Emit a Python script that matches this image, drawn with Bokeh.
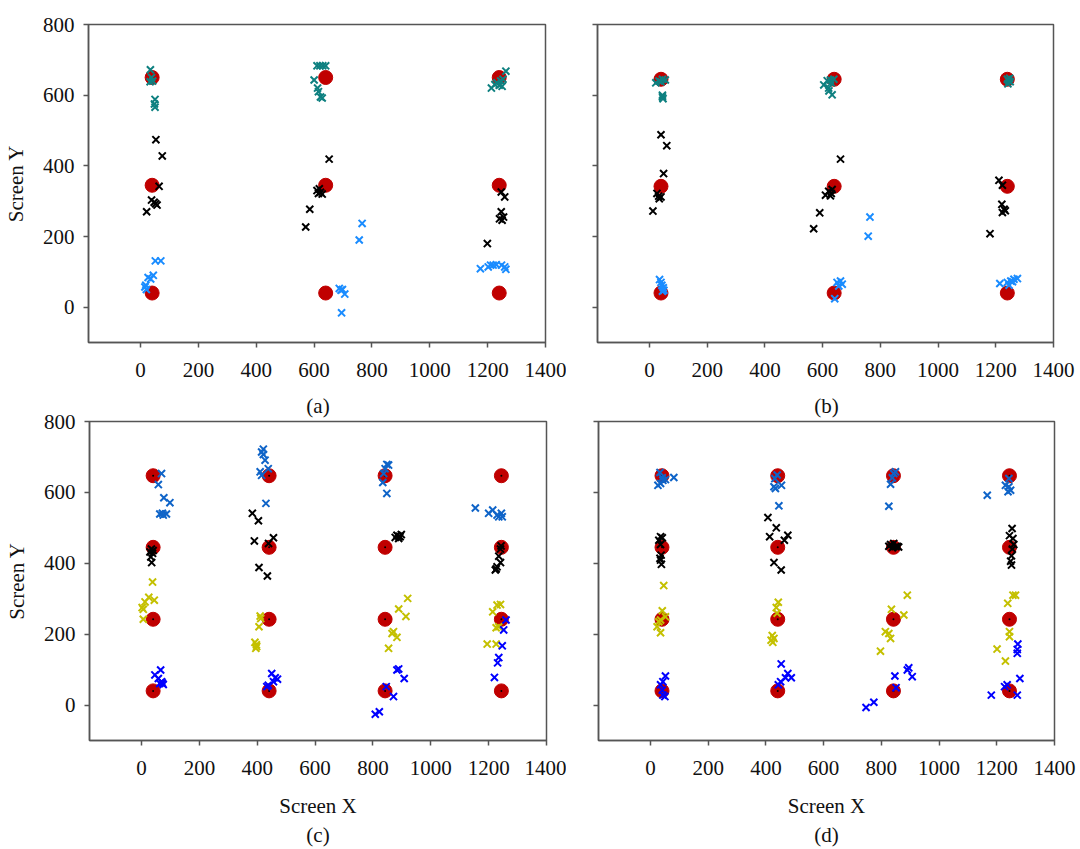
from bokeh.plotting import figure
from bokeh.layouts import column, row
from bokeh.models import FixedTicker, Range1d, Title, CustomJSTickFormatter
from bokeh.embed import file_html
from bokeh.resources import INLINE

# Target grid (red circles) for the two layouts
TARGET_X_AB = [40, 640, 1240]
TARGET_Y_A = [40, 345, 650]
TARGET_Y_B = [40, 342, 645]
TARGET_X_CD = [40, 441, 842, 1244]
TARGET_Y_CD = [40, 242, 445, 647]

X_TICKS = [0, 200, 400, 600, 800, 1000, 1200, 1400]
Y_TICKS = [0, 200, 400, 600, 800]

# Panel (a) gaze samples
A_TEAL = [(34, 672), (38, 650), (42, 640), (33, 638), (50, 588), (48, 575), (50, 566),
          (610, 683), (620, 683), (630, 683), (640, 683), (600, 643), (612, 620), (615, 610),
          (622, 595), (628, 592),
          (1263, 668), (1213, 620), (1225, 630), (1232, 635), (1240, 628), (1250, 625),
          (1253, 645), (1245, 640)]
A_BLACK = [(53, 474), (75, 428), (64, 342), (38, 303), (52, 293), (47, 297), (57, 289), (21, 270),
           (652, 419), (610, 330), (618, 335), (622, 325), (628, 320), (615, 322), (585, 277),
           (571, 227),
           (1247, 326), (1259, 312), (1247, 270), (1241, 250), (1250, 246), (1255, 255),
           (1199, 180)]
A_BLUE = [(51, 131), (70, 131), (26, 84), (44, 90), (35, 80), (15, 57), (20, 50), (18, 62),
          (766, 237), (756, 190), (687, 53), (693, 48), (698, 50), (706, 37), (695, -16),
          (1175, 109), (1202, 114), (1210, 119), (1219, 119), (1230, 120), (1248, 119),
          (1259, 114), (1263, 107)]

# Panel (b) gaze samples
B_TEAL = [(22, 635), (33, 640), (45, 645), (55, 643), (40, 638), (45, 600), (45, 595), (47, 590),
          (604, 629), (616, 641), (622, 612), (627, 643), (639, 645), (621, 620), (633, 601),
          (630, 635),
          (1240, 645), (1245, 640), (1250, 638), (1242, 632), (1248, 648)]
B_BLACK = [(40, 488), (60, 457), (49, 378), (26, 322), (34, 307), (40, 312), (32, 314), (12, 272),
           (662, 419), (610, 317), (621, 328), (630, 322), (627, 315), (633, 333), (590, 267),
           (569, 222),
           (1211, 359), (1223, 345), (1221, 291), (1229, 277), (1223, 268), (1233, 273),
           (1180, 208)]
B_BLUE = [(35, 78), (40, 70), (43, 62), (48, 55), (50, 48), (45, 45),
          (764, 255), (758, 201), (650, 70), (662, 74), (668, 65), (656, 60), (642, 24),
          (1214, 67), (1240, 70), (1252, 74), (1263, 79), (1275, 81), (1246, 62), (1258, 72)]

# Panel (c) gaze samples
C_MIDBLUE = [(69, 653), (58, 622), (77, 585), (98, 571), (63, 539), (75, 536), (86, 539), (72, 541),
             (421, 722), (415, 714), (421, 707), (427, 691), (410, 658), (438, 667), (415, 648),
             (430, 569),
             (848, 679), (854, 677), (842, 667), (837, 653), (834, 628), (848, 597),
             (1154, 556), (1200, 541), (1214, 550), (1229, 536), (1244, 541), (1235, 531),
             (1247, 531)]
C_BLACK = [(34, 440), (29, 432), (38, 428), (32, 418), (35, 402), (40, 436),
           (383, 541), (404, 520), (390, 463), (439, 456), (456, 472), (406, 388), (435, 364),
           (883, 479), (894, 475), (889, 470), (877, 473), (898, 481), (890, 476),
           (1243, 449), (1241, 440), (1235, 420), (1241, 402), (1229, 390), (1223, 381),
           (1226, 384)]
C_YELLOW = [(38, 347), (25, 304), (44, 296), (12, 291), (2, 275), (6, 270), (6, 242),
            (410, 251), (412, 244), (406, 221), (392, 177), (398, 165), (395, 160), (397, 170),
            (920, 301), (889, 271), (914, 250), (866, 202), (871, 207), (883, 191), (854, 160),
            (1241, 284), (1229, 282), (1214, 263), (1235, 221), (1226, 218), (1195, 172),
            (1226, 172)]
C_BLUE = [(66, 99), (46, 85), (58, 75), (69, 66), (75, 58), (63, 61), (72, 62),
          (450, 89), (462, 77), (470, 73), (456, 66), (438, 56), (433, 52),
          (883, 99), (889, 102), (908, 75), (846, 52), (871, 24), (808, -26), (822, -19),
          (1260, 240), (1252, 212), (1247, 167), (1235, 134), (1231, 119), (1220, 78)]

# Panel (d) gaze samples
D_MIDBLUE = [(33, 656), (26, 620), (35, 625), (43, 634), (52, 636), (81, 642), (41, 641),
             (439, 649), (431, 639), (428, 616), (433, 611), (454, 620), (445, 562),
             (843, 653), (849, 658), (838, 641), (832, 623), (826, 561),
             (1242, 639), (1230, 620), (1242, 616), (1248, 606), (1239, 602), (1167, 592)]
D_BLACK = [(35, 475), (41, 472), (29, 465), (35, 453), (37, 423), (33, 414), (38, 397), (35, 409),
           (407, 529), (436, 500), (413, 475), (476, 479), (464, 465), (428, 402), (453, 381),
           (832, 453), (843, 456), (855, 448), (838, 444), (849, 447), (826, 448), (860, 446),
           (1253, 498), (1244, 478), (1256, 470), (1259, 453), (1251, 421), (1248, 406),
           (1251, 395), (1254, 440)]
D_YELLOW = [(46, 337), (41, 266), (52, 249), (35, 240), (23, 221), (35, 204), (29, 235),
            (443, 290), (436, 275), (439, 259), (422, 196), (428, 188), (424, 177), (418, 183),
            (890, 310), (835, 270), (878, 254), (814, 207), (826, 202), (832, 188), (797, 152),
            (1256, 310), (1265, 310), (1238, 287), (1244, 207), (1244, 193), (1201, 158),
            (1230, 124)]
D_BLUE = [(52, 82), (43, 66), (35, 57), (41, 42), (50, 24), (43, 28),
          (453, 116), (476, 89), (468, 77), (488, 77), (451, 66), (443, 57),
          (895, 105), (890, 99), (907, 80), (847, 82), (851, 49), (774, 8), (747, -7),
          (1273, 172), (1271, 157), (1271, 146), (1280, 75), (1227, 52), (1236, 57),
          (1181, 28), (1271, 28)]

FONT = "Liberation Serif"
FONT_SIZE = "21px"
TEXT_COLOR = "#111111"
AXIS_COLOR = "#555555"
RED = "#c00000"
TEAL = "#0e8080"
DODGER = "#1a8cff"
MIDBLUE = "#0f64c8"
YELLOW = "#c4c000"
BLUE = "#0000ff"


def caption(text, standoff):
    return Title(text=text, align="center", text_font=FONT, text_font_size=FONT_SIZE,
                 text_font_style="normal", text_color=TEXT_COLOR, standoff=standoff)


def make_panel(border, frame, show_y_labels, y_label, x_label):
    left, right, top, bottom = border
    fw, fh = frame
    p = figure(frame_width=fw, frame_height=fh,
               min_border_left=left, min_border_right=right,
               min_border_top=top, min_border_bottom=bottom,
               x_range=Range1d(-180, 1400), y_range=Range1d(-100, 800),
               output_backend="svg", toolbar_location=None, tools="")
    p.background_fill_color = "white"
    p.border_fill_color = "white"
    p.outline_line_color = AXIS_COLOR
    p.outline_line_width = 1.5
    p.xgrid.visible = False
    p.ygrid.visible = False

    for ax in (p.xaxis[0], p.yaxis[0]):
        ax.axis_line_color = AXIS_COLOR
        ax.axis_line_width = 1.5
        ax.major_tick_line_color = AXIS_COLOR
        ax.major_tick_line_width = 1.5
        ax.major_tick_in = 0
        ax.major_tick_out = 5
        ax.minor_tick_line_color = None
        ax.major_label_text_font = FONT
        ax.major_label_text_font_size = FONT_SIZE
        ax.major_label_text_color = TEXT_COLOR
        ax.axis_label_text_font = FONT
        ax.axis_label_text_font_size = FONT_SIZE
        ax.axis_label_text_font_style = "normal"
        ax.axis_label_text_color = TEXT_COLOR

    p.xaxis.ticker = FixedTicker(ticks=X_TICKS)
    p.yaxis.ticker = FixedTicker(ticks=Y_TICKS)
    p.xaxis.major_label_standoff = 15
    p.yaxis.major_label_standoff = 9
    p.yaxis.axis_label_standoff = 12
    p.xaxis.axis_label_standoff = 16

    if show_y_labels:
        p.yaxis.axis_label = y_label
    else:
        p.yaxis.formatter = CustomJSTickFormatter(code="return ''")
        p.yaxis.major_label_standoff = 0

    if x_label:
        p.xaxis.axis_label = x_label
    return p


def draw_targets(p, xs, ys, center_dot):
    tx = [x for y in ys for x in xs]
    ty = [y for y in ys for x in xs]
    p.scatter(tx, ty, marker="circle", size=14, fill_color=RED, line_color=RED)
    if center_dot:
        p.scatter(tx, ty, marker="circle", size=2, fill_color="black", line_color=None)


def draw_samples(p, pts, color):
    p.scatter([q[0] for q in pts], [q[1] for q in pts], marker="x", size=10,
              line_color=color, line_width=2)


# Top row: the captions (a)/(b) are placed in the top margin of the lower row,
# so that they can share the gap with the lower row's "800" tick labels.
pa = make_panel((88, 21, 24, 43), (457, 318), True, "Screen Y", None)
draw_targets(pa, TARGET_X_AB, TARGET_Y_A, False)
draw_samples(pa, A_TEAL, TEAL)
draw_samples(pa, A_BLACK, "black")
draw_samples(pa, A_BLUE, DODGER)

pb = make_panel((31, 27, 24, 43), (456, 318), False, None, None)
draw_targets(pb, TARGET_X_AB, TARGET_Y_B, False)
draw_samples(pb, B_TEAL, TEAL)
draw_samples(pb, B_BLACK, "black")
draw_samples(pb, B_BLUE, DODGER)

pc = make_panel((89, 20, 36, 109), (457, 319), True, "Screen Y", "Screen X")
pc.add_layout(caption("(a)", 7), "above")
pc.add_layout(caption("(c)", 0), "below")
draw_targets(pc, TARGET_X_CD, TARGET_Y_CD, True)
draw_samples(pc, C_MIDBLUE, MIDBLUE)
draw_samples(pc, C_BLACK, "black")
draw_samples(pc, C_YELLOW, YELLOW)
draw_samples(pc, C_BLUE, BLUE)

pd = make_panel((32, 26, 36, 109), (456, 319), False, None, "Screen X")
pd.add_layout(caption("(b)", 7), "above")
pd.add_layout(caption("(d)", 0), "below")
draw_targets(pd, TARGET_X_CD, TARGET_Y_CD, True)
draw_samples(pd, D_MIDBLUE, MIDBLUE)
draw_samples(pd, D_BLACK, "black")
draw_samples(pd, D_YELLOW, YELLOW)
draw_samples(pd, D_BLUE, BLUE)

layout = column(row(pa, pb), row(pc, pd))
open("out.html", "w").write(file_html(layout, INLINE))
